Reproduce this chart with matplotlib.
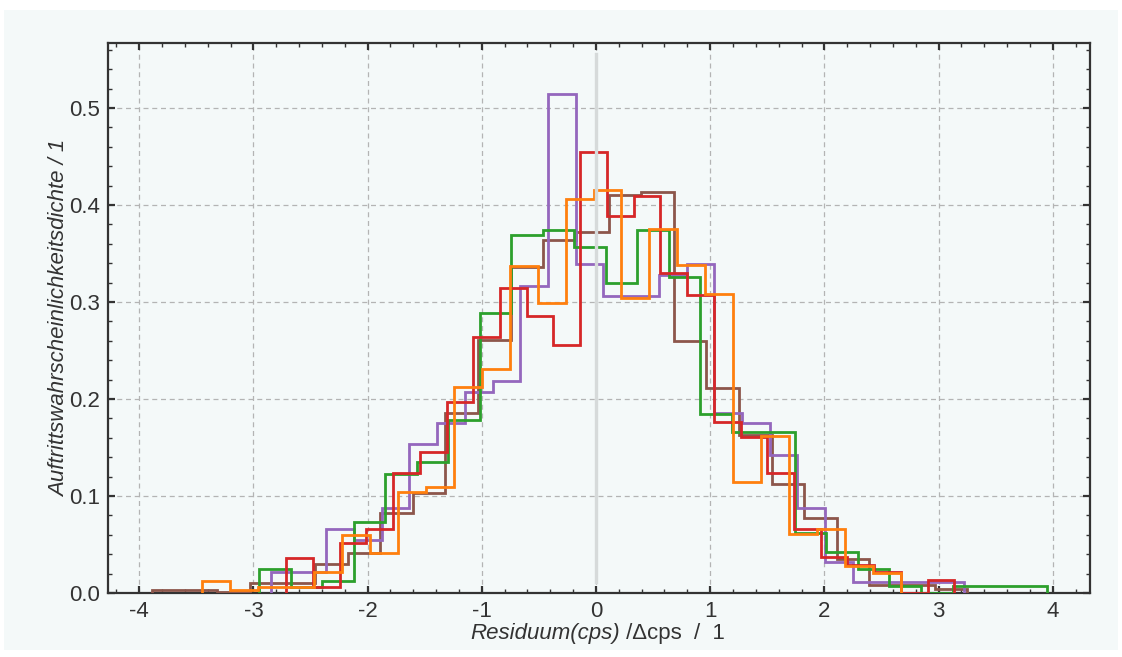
import numpy as np
import matplotlib
matplotlib.use("Agg")
import matplotlib.pyplot as plt
from matplotlib.patches import Rectangle
from matplotlib.ticker import MultipleLocator
from matplotlib.offsetbox import TextArea, HPacker, AnnotationBbox

plt.rcParams["font.family"] = ["Liberation Sans", "DejaVu Sans"]

# Density histograms of the residuals, 25 equal bins per run (range lo..hi)
green_range = (-2.95, 3.95)
green_density = [0.025, 0.006, 0.0124, 0.0736, 0.1225, 0.1355, 0.1785, 0.289,
                 0.369, 0.3746, 0.3564, 0.320, 0.3746, 0.3254, 0.1844, 0.1658,
                 0.1658, 0.062, 0.0426, 0.0248, 0.007, 0.0, 0.007, 0.007, 0.007]

red_range = (-2.713, 3.138)
red_density = [0.0358, 0.0065, 0.0513, 0.0657, 0.1235, 0.1458, 0.1974, 0.2639,
               0.3144, 0.2852, 0.256, 0.4544, 0.3883, 0.4097, 0.33, 0.3075,
               0.1762, 0.1613, 0.1242, 0.066, 0.0375, 0.0289, 0.022, 0.0, 0.0134]

orange_range = (-3.447, 2.670)
orange_density = [0.0127, 0.003, 0.0065, 0.0065, 0.022, 0.06, 0.0416, 0.1046,
                  0.109, 0.2119, 0.2308, 0.3375, 0.299, 0.4063, 0.4159, 0.304,
                  0.3756, 0.3378, 0.3086, 0.1149, 0.1623, 0.0609, 0.066, 0.0281,
                  0.021]

purple_range = (-2.848, 3.221)
purple_density = [0.022, 0.022, 0.0657, 0.0547, 0.0874, 0.1538, 0.175, 0.2077,
                  0.219, 0.317, 0.5147, 0.3395, 0.3065, 0.3065, 0.328, 0.339,
                  0.186, 0.175, 0.1424, 0.0874, 0.0323, 0.011, 0.011, 0.011,
                  0.011]

brown_range = (-3.889, 3.252)
brown_density = [0.003, 0.003, 0.0013, 0.0106, 0.0106, 0.0296, 0.0416, 0.0829,
                 0.1035, 0.1855, 0.2604, 0.3361, 0.3636, 0.3722, 0.4107, 0.4135,
                 0.26, 0.2112, 0.163, 0.1122, 0.0771, 0.035, 0.0083, 0.0083,
                 0.004]

x_ticks = [-4, -3, -2, -1, 0, 1, 2, 3, 4]
y_ticks = [0.0, 0.1, 0.2, 0.3, 0.4, 0.5]

runs = [
    (brown_range, brown_density, "#8c564b"),
    (purple_range, purple_density, "#9467bd"),
    (green_range, green_density, "#2ca02c"),
    (red_range, red_density, "#d62728"),
    (orange_range, orange_density, "#ff7f0e"),
]

panel = "#f4f9f9"
ink = "#333333"
fs = 16

fig = plt.figure(figsize=(11.22, 6.57), dpi=100, facecolor="white")
fig.patches.append(Rectangle((4 / 1122, 7 / 657), 1114 / 1122, 640 / 657,
                             transform=fig.transFigure, facecolor=panel,
                             edgecolor="none", zorder=-10))

ax = fig.add_axes([108 / 1122, 64 / 657, 982 / 1122, 550 / 657])
ax.set_facecolor(panel)

for (lo, hi), dens, col in runs:
    edges = np.linspace(lo, hi, len(dens) + 1)
    ax.stairs(dens, edges, color=col, linewidth=2.0, zorder=3)

ax.axvline(0, ymin=0.02, ymax=0.98, color="#d6dada", linewidth=2.4, zorder=4)

ax.set_xlim(-4.273, 4.326)
ax.set_ylim(0, 0.567)
ax.set_xticks(x_ticks)
ax.set_yticks(y_ticks)
ax.set_xticklabels([f"{t:d}" for t in x_ticks])
ax.set_yticklabels([f"{t:.1f}" for t in y_ticks])
ax.xaxis.set_minor_locator(MultipleLocator(0.2))
ax.yaxis.set_minor_locator(MultipleLocator(0.02))
ax.tick_params(which="both", direction="in", top=True, right=True,
               color=ink, labelsize=fs, labelcolor=ink)
ax.tick_params(which="major", length=5, width=1.6, pad=6)
ax.tick_params(which="minor", length=3, width=1.0)
for s in ax.spines.values():
    s.set_color(ink)
    s.set_linewidth(1.6)

ax.grid(True, which="major", color="#b4b4b4", linestyle=(0, (4, 3)),
        linewidth=0.9, zorder=1)
ax.set_axisbelow(True)

ax.set_ylabel("Auftrittswahrscheinlichkeitsdichte / 1", fontsize=fs,
              style="italic", color=ink, labelpad=-1)

# x label: italic quantity name followed by upright unit part
label_parts = HPacker(children=[
    TextArea("Residuum(cps)", textprops=dict(fontsize=fs, style="italic",
                                             color=ink)),
    TextArea(" /\u0394cps  /  1", textprops=dict(fontsize=fs, color=ink)),
], align="baseline", pad=0, sep=0)
fig.add_artist(AnnotationBbox(label_parts, (598 / 1122, 1 - 634 / 657),
                              xycoords="figure fraction", frameon=False,
                              box_alignment=(0.5, 0.5), pad=0))

fig.savefig("out.png", dpi=100, facecolor="white")
